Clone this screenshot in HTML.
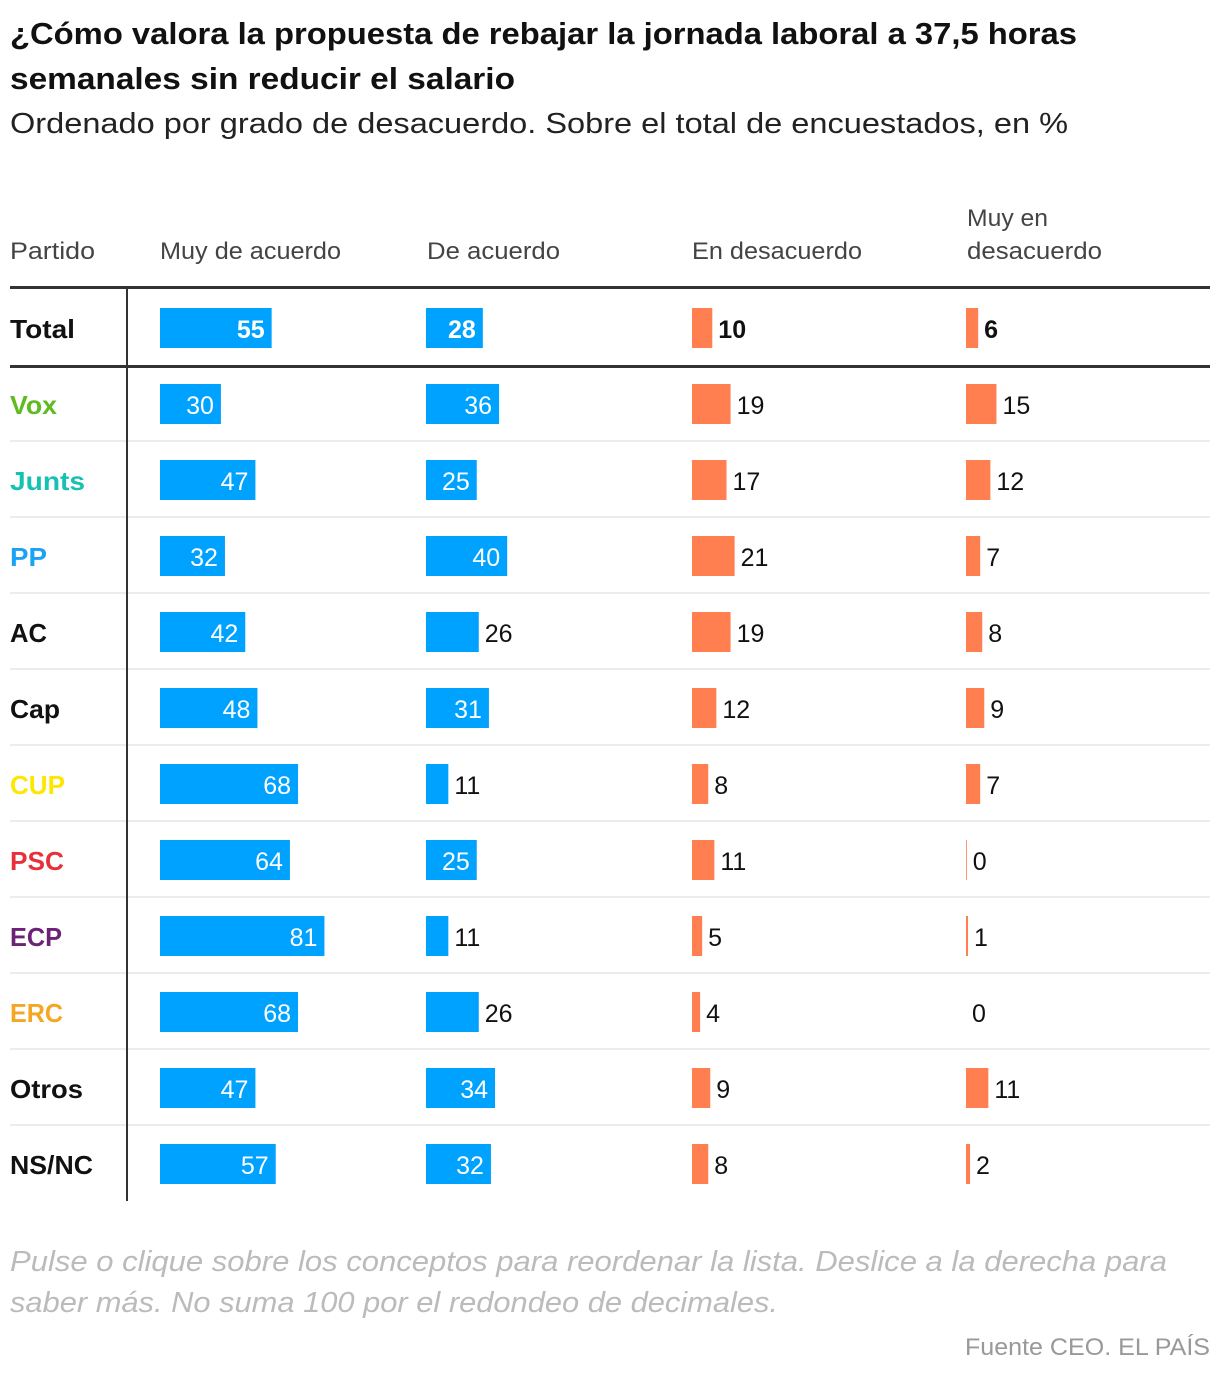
<!DOCTYPE html>
<html><head><meta charset="utf-8"><style>
html,body{margin:0;padding:0;background:#fff;}
svg{display:block;font-family:"Liberation Sans",sans-serif;}
</style></head><body>
<svg id="chart" width="1220" height="1376" viewBox="0 0 1220 1376" xmlns="http://www.w3.org/2000/svg">
<g>
<text x="10" y="44" font-size="31" font-weight="bold" fill="#111" textLength="1067" lengthAdjust="spacingAndGlyphs">¿Cómo valora la propuesta de rebajar la jornada laboral a 37,5 horas</text>
<text x="10" y="89" font-size="31" font-weight="bold" fill="#111" textLength="505" lengthAdjust="spacingAndGlyphs">semanales sin reducir el salario</text>
<text x="10" y="133" font-size="29" fill="#222" textLength="1058" lengthAdjust="spacingAndGlyphs">Ordenado por grado de desacuerdo. Sobre el total de encuestados, en %</text>
</g>
<g fill="#444" font-size="24">
<text x="10" y="259" textLength="85" lengthAdjust="spacingAndGlyphs">Partido</text>
<text x="160" y="259" textLength="181" lengthAdjust="spacingAndGlyphs">Muy de acuerdo</text>
<text x="427" y="259" textLength="133" lengthAdjust="spacingAndGlyphs">De acuerdo</text>
<text x="692" y="259" textLength="170" lengthAdjust="spacingAndGlyphs">En desacuerdo</text>
<text x="967" y="226" textLength="81" lengthAdjust="spacingAndGlyphs">Muy en</text>
<text x="967" y="259" textLength="135" lengthAdjust="spacingAndGlyphs">desacuerdo</text>
</g>
<g id="rows"></g>
<rect x="10" y="286" width="1200" height="3" fill="#333"/>
<rect x="126" y="289" width="2" height="912" fill="#333"/>
<g fill="#bbb" font-size="29" font-style="italic">
<text x="10" y="1271" textLength="1157" lengthAdjust="spacingAndGlyphs">Pulse o clique sobre los conceptos para reordenar la lista. Deslice a la derecha para</text>
<text x="10" y="1312" textLength="768" lengthAdjust="spacingAndGlyphs">saber más. No suma 100 por el redondeo de decimales.</text>
</g>
<text x="965" y="1355" font-size="24" fill="#999" textLength="245" lengthAdjust="spacingAndGlyphs">Fuente CEO. EL PAÍS</text>
</svg>
<script>
const parties = ["Total","Vox","Junts","PP","AC","Cap","CUP","PSC","ECP","ERC","Otros","NS/NC"];
const partyColors = ["#111","#5fbb1f","#17c1b1","#1aa3f5","#111","#111","#ffe600","#e8303a","#6b2277","#f5a623","#111","#111"];
const partyLabelWidths = [65,47,75,37,37,50,55,54,52,53,73,83];
const muyAcuerdo = [55,30,47,32,42,48,68,64,81,68,47,57];
const acuerdo = [28,36,25,40,26,31,11,25,11,26,34,32];
const desacuerdo = [10,19,17,21,19,12,8,11,5,4,9,8];
const muyDesacuerdo = [6,15,12,7,8,9,7,0.4,1,0,11,2];
const acuerdoInside = [true,true,true,true,false,true,false,true,false,false,true,true];
const NS="http://www.w3.org/2000/svg";
const g=document.getElementById('rows');
const scale=v=>v*2.03;
const rowY=i=>i*76+289;
const colX=[160,426,692,966];
function mk(tag,attrs,parent){const e=document.createElementNS(NS,tag);for(const k in attrs)e.setAttribute(k,attrs[k]);parent.appendChild(e);return e;}
parties.forEach((p,i)=>{
  const y=rowY(i);
  const row=mk('g',{},g);
  
  
  if(i>0 && i<parties.length-1){
    const sep=mk('rect',{x:10,y:y+75,width:1200,height:2,fill:'#ececec'},row);
    
    
  } else if(i===0) {
    const sep=mk('rect',{x:10,y:y+76,width:1200,height:3,fill:'#333'},row);
    
    
  }
  const bold=i===0;
  const lbl=mk('text',{x:10,y:y+49,'font-size':26,'font-weight':'bold',fill:partyColors[i],textLength:partyLabelWidths[i],lengthAdjust:'spacingAndGlyphs'},row);
  lbl.textContent=p;
  
  
  const series=[muyAcuerdo,acuerdo,desacuerdo,muyDesacuerdo];
  series.forEach((s,j)=>{
    const v=s[i];const w=scale(v);const x=colX[j];
    const color=j<2?'#00a2ff':'#ff7f50';
    const bar=mk('rect',{x:x,y:y+19,width:w,height:40,fill:color},row);
    
    
    const inside = j===0 || (j===1 && acuerdoInside[i]);
    const t=mk('text',{y:y+49,'font-size':25,'font-weight':bold?'bold':'normal'},row);
    if(inside){t.setAttribute('x',x+w-7);t.setAttribute('text-anchor','end');t.setAttribute('fill','#fff');}
    else{t.setAttribute('x',x+w+6);t.setAttribute('fill','#111');}
    t.textContent=Math.round(v);
    
    
  });
});
</script>
</body></html>
